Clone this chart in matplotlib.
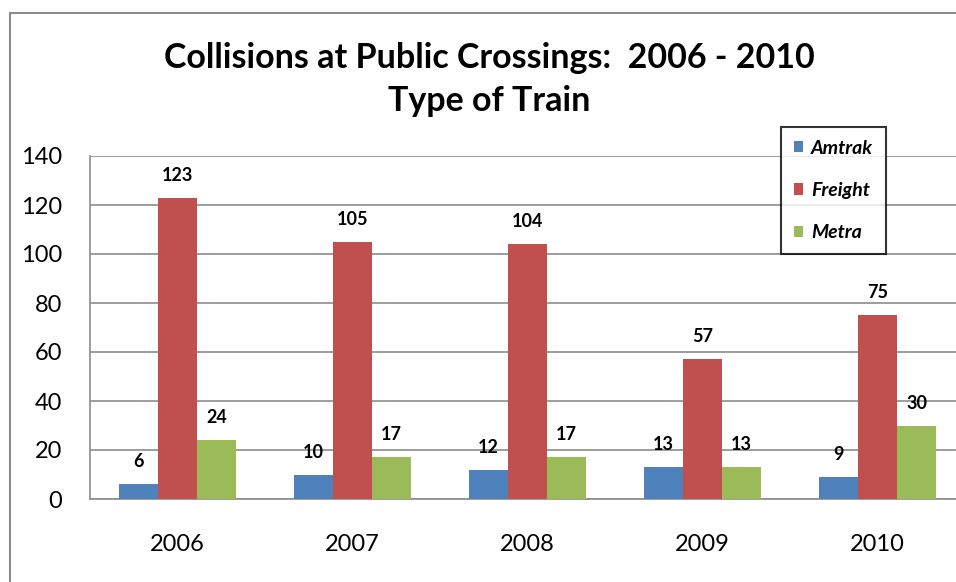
import matplotlib
matplotlib.use("Agg")
import matplotlib.pyplot as plt
import numpy as np
from matplotlib.patches import Rectangle

years = ["2006", "2007", "2008", "2009", "2010"]
series_names = ["Amtrak", "Freight", "Metra"]
amtrak = [6, 10, 12, 13, 9]
freight = [123, 105, 104, 57, 75]
metra = [24, 17, 17, 13, 30]
colors = ["#4F81BD", "#C0504D", "#9BBB59"]
yticks = [0, 20, 40, 60, 80, 100, 120, 140]

plt.rcParams['font.family'] = ['Lato', 'DejaVu Sans']

W, H = 956, 582
fig = plt.figure(figsize=(W / 100, H / 100), dpi=100)

# chart border
fig.patches.append(Rectangle((10 / W, -0.1), 1.2, (H - 13) / H + 0.1,
                             transform=fig.transFigure, fill=False,
                             edgecolor="#8c8c8c", linewidth=1.5, zorder=0))

ax = fig.add_axes([90 / W, (H - 499) / H, 875 / W, 343 / H])
x = np.arange(len(years))
bw = 0.223
for i, (vals, name, c) in enumerate(zip([amtrak, freight, metra], series_names, colors)):
    pos = x + (i - 1) * bw
    ax.bar(pos, vals, width=bw, color=c, label=name, zorder=3)
    for xp, v in zip(pos, vals):
        ax.annotate(str(v), (xp, v), xytext=(0, 10), textcoords="offset points",
                    ha="center", va="bottom", fontsize=13, fontweight="bold")

ax.set_xlim(-0.5, len(years) - 0.5)
ax.set_ylim(0, 140)
ax.set_yticks(yticks)
ax.set_yticklabels([str(t) for t in yticks], fontsize=17)
ax.set_xticks(x)
ax.set_xticklabels(years, fontsize=17)
ax.tick_params(axis="y", length=0, pad=20)
ax.tick_params(axis="x", length=0, pad=25)
ax.grid(axis="y", color="#8c8c8c", linewidth=1.2, zorder=0)
for s in ["top", "right"]:
    ax.spines[s].set_visible(False)
ax.spines["left"].set_color("#8c8c8c")
ax.spines["bottom"].set_color("#8c8c8c")
ax.spines["left"].set_linewidth(1.2)
ax.spines["bottom"].set_linewidth(1.2)

leg = fig.legend(loc="upper left", bbox_to_anchor=(781 / W, 1 - 127 / H),
                 borderaxespad=0, frameon=True, fancybox=False,
                 handlelength=0.5, handleheight=0.5,
                 labelspacing=1.3, borderpad=0.65, handletextpad=0.4,
                 prop={"size": 14, "weight": "bold", "style": "italic"})
leg.get_frame().set_edgecolor("black")
leg.get_frame().set_linewidth(1.5)

fig.text(489 / W, 1 - 58 / H, "Collisions at Public Crossings:  2006 - 2010",
         ha="center", va="center", fontsize=24.5, fontweight="bold")
fig.text(489 / W, 1 - 101 / H, "Type of Train",
         ha="center", va="center", fontsize=24.5, fontweight="bold")

fig.savefig("out.png", dpi=100)
